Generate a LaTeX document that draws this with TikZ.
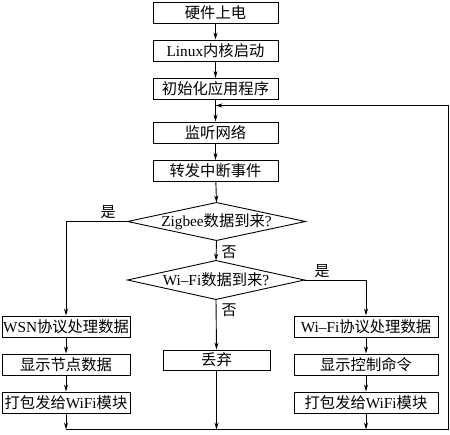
\documentclass[tikz,border=0pt]{standalone}
\usepackage{fontspec}
\setmainfont{Liberation Serif}
\newfontfamily\cjk{Noto Sans CJK SC}
\usetikzlibrary{arrows.meta}
\begin{document}
\begin{tikzpicture}[x=1pt,y=-1pt,
  line width=0.9pt,
  every node/.style={font=\fontsize{15.3}{17}\selectfont, inner sep=0pt},
  box/.style={draw, rectangle, minimum height=21pt, line width=1pt},
  cbox/.style={box, minimum width=125pt},
  sbox/.style={box, minimum width=128pt},
  rbox/.style={box, minimum width=144pt},
  dbox/.style={rectangle, minimum height=37pt},
  arr/.style={-{Stealth[length=7pt,width=4pt]}},
  lbl/.style={font=\fontsize{15}{17}\selectfont\cjk}
]
\useasboundingbox (0,0) rectangle (450,434);

\node[cbox] (b1) at (215.5,12.5) {\cjk 硬件上电};
\node[cbox] (b2) at (215.5,50.5) {Linux{\cjk 内核启动}};
\node[cbox] (b3) at (215.5,89) {\cjk 初始化应用程序};
\node[cbox] (b4) at (215.5,132.5) {\cjk 监听网络};
\node[cbox] (b5) at (215.5,171) {\cjk 转发中断事件};

\node[dbox, minimum width=177pt] (d1) at (216.5,221.5) {Zigbee{\cjk 数据到来}?};
\draw (d1.north) -- (d1.east) -- (d1.south) -- (d1.west) -- cycle;
\node[dbox, minimum width=176pt, minimum height=38pt] (d2) at (216,280) {Wi–Fi{\cjk 数据到来}?};
\draw (d2.north) -- (d2.east) -- (d2.south) -- (d2.west) -- cycle;

\node[box, minimum width=107pt, minimum height=20pt] (dc) at (216.5,360) {\cjk 丢弃};

\node[sbox] (l1) at (66,326.5) {WSN{\cjk 协议处理数据}};
\node[sbox] (l2) at (66,364.5) {\cjk 显示节点数据};
\node[sbox] (l3) at (66,402.5) {{\cjk 打包发给}WiFi{\cjk 模块}};

\node[rbox] (r1) at (366,326.5) {Wi–Fi{\cjk 协议处理数据}};
\node[rbox] (r2) at (366,364.5) {\cjk 显示控制命令};
\node[rbox] (r3) at (366,402.5) {{\cjk 打包发给}WiFi{\cjk 模块}};

\node[lbl] (y1) at (108,212) {是};
\node[lbl] (n1) at (229,252) {否};
\node[lbl] (y2) at (322,271) {是};
\node[lbl] (n2) at (229,310) {否};

\coordinate (bl) at (66,429.5);
\coordinate (br) at (448,429.5);
\coordinate (tr) at (448,105.5);
\coordinate (tj) at (215.5,105.5);

\draw[arr] (b1) -- (b2);
\draw[arr] (b2) -- (b3);
\draw[arr] (b3) -- (b4);
\draw[arr] (b4) -- (b5);
\draw[arr] (b5) -- (d1.north);
\draw[arr] (d1.south) -- (d2.north);
\draw[arr] (d1.west) -| (l1.north);
\draw[arr] (d2.east) -| (r1.north);
\draw[arr] (d2.south) -- (dc.north);
\draw[arr] (l1) -- (l2);
\draw[arr] (l2) -- (l3);
\draw[arr] (r1) -- (r2);
\draw[arr] (r2) -- (r3);
\draw[arr] (l3.south) -- (bl);
\draw[arr] (dc.south) -- (dc.south |- bl);
\draw[arr] (r3.south) -- (r3.south |- bl);
\draw[arr] (bl) -- (br) -- (tr) -- (tj);
\end{tikzpicture}
\end{document}
